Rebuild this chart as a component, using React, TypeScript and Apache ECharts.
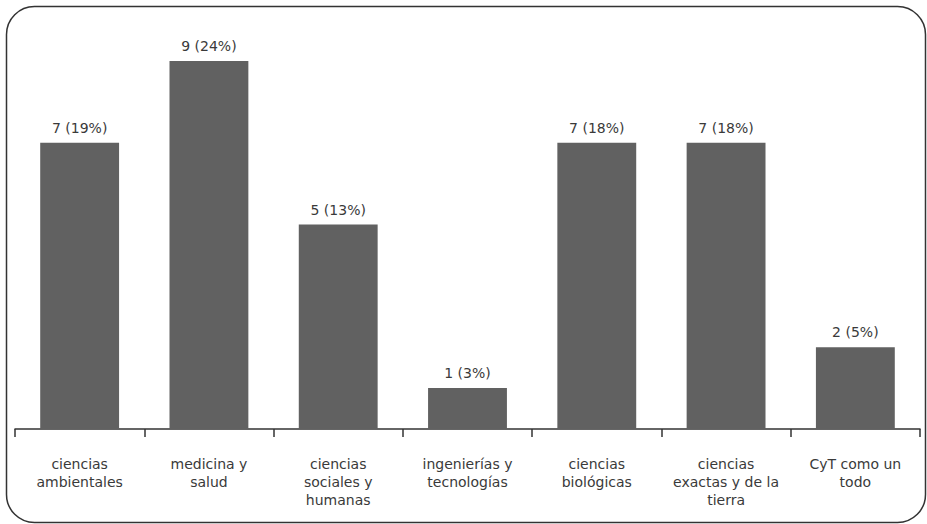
import React, { useEffect, useRef } from "react";
import * as echarts from "echarts";

const categories = [
  "ciencias\nambientales",
  "medicina y\nsalud",
  "ciencias\nsociales y\nhumanas",
  "ingenierías y\ntecnologías",
  "ciencias\nbiológicas",
  "ciencias\nexactas y de la\ntierra",
  "CyT como un\ntodo",
];
const counts = [7, 9, 5, 1, 7, 7, 2];
const percents = [19, 24, 13, 3, 18, 18, 5];

export default function App() {
  const ref = useRef<HTMLDivElement>(null);
  useEffect(() => {
    if (!ref.current) return;
    const chart = echarts.init(ref.current, null, { renderer: "svg" });
    chart.setOption({
      animation: false,
      grid: { left: 15, right: 7, top: 61, bottom: 95, containLabel: false },
      xAxis: {
        type: "category",
        data: categories,
        axisLine: { lineStyle: { color: "#333", width: 1.5 } },
        axisTick: { show: true, length: 8, lineStyle: { color: "#333", width: 1.5 } },
        axisLabel: {
          color: "#3a3a3a",
          fontSize: 14,
          lineHeight: 18,
          margin: 26,
          interval: 0,
          align: "center",
          fontFamily: "DejaVu Sans",
        },
      },
      yAxis: {
        type: "value",
        min: 0,
        max: 9,
        show: false,
        splitLine: { show: false },
      },
      series: [
        {
          type: "bar",
          data: counts,
          barWidth: "61%",
          itemStyle: { color: "#616161" },
          label: {
            show: true,
            position: "top",
            distance: 8,
            color: "#3a3a3a",
            fontSize: 14,
            fontFamily: "DejaVu Sans",
            formatter: (p: any) => `${counts[p.dataIndex]} (${percents[p.dataIndex]}%)`,
          },
        },
      ],
      graphic: [
        {
          type: "rect",
          shape: { x: 6.5, y: 6.5, width: 919, height: 516, r: 28 },
          style: { fill: "none", stroke: "#333", lineWidth: 1.5 },
          silent: true,
        },
      ],
    });
    return () => chart.dispose();
  }, []);
  return <div ref={ref} style={{ width: 927, height: 524, position: "absolute", left: 0, top: 0 }} />;
}
